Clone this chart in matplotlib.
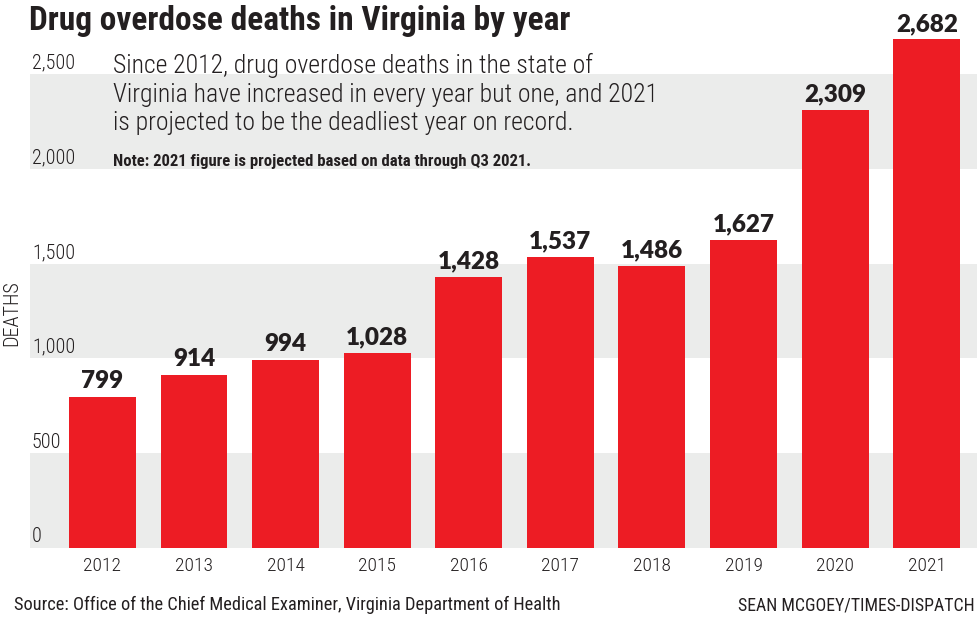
import matplotlib.pyplot as plt
import matplotlib.transforms as mtransforms

years = ["2012", "2013", "2014", "2015", "2016", "2017", "2018", "2019", "2020", "2021"]
deaths = [799, 914, 994, 1028, 1428, 1537, 1486, 1627, 2309, 2682]
y_ticks = [0, 500, 1000, 1500, 2000, 2500]
y_tick_labels = ["0", "500", "1,000", "1,500", "2,000", "2,500"]

RED = "#ED1C24"
GRAY = "#EBECEB"
INK = "#231F20"
NARROW = ["Roboto Condensed", "Liberation Sans Narrow", "Roboto", "DejaVu Sans"]

W, H = 978, 619
fig = plt.figure(figsize=(W / 100, H / 100), dpi=100)

# axes: left edge at x=30px, zero line at y=548px, 500 units = ~95 px
y_top = 2850
px_per_500 = 94.8
ax = fig.add_axes([30 / W, (H - 548) / H, (W - 30) / W, y_top * px_per_500 / 500 / H])
ax.set_xlim(-0.79, 9.56)
ax.set_ylim(0, y_top)
ax.axis("off")

# alternating gray bands
for lo in [0, 1000, 2000]:
    ax.axhspan(lo, lo + 500, color=GRAY, lw=0, zorder=0)

x = list(range(len(years)))
ax.bar(x, deaths, width=0.73, color=RED, zorder=2)

for xi, d in zip(x, deaths):
    ax.text(xi, d + 24, f"{d:,}", ha="center", va="bottom", fontsize=17.5,
            fontweight="heavy", family=["Lato", "DejaVu Sans"], color=INK, zorder=3)

trans = mtransforms.blended_transform_factory(ax.transAxes, ax.transData)
for v, lab in zip(y_ticks, y_tick_labels):
    ax.text(0.002, v + 8, lab, transform=trans, ha="left", va="bottom",
            fontsize=14.5, family=NARROW, fontweight="light", color=INK)

for xi, yr in zip(x, years):
    ax.text(xi, -95, yr, ha="center", va="center", fontsize=14,
            family=NARROW, fontweight="light", color=INK)

fig.text(12 / W, 1 - 313 / H, "DEATHS", rotation=90, ha="center", va="center",
         fontsize=14.5, family=NARROW, fontweight="light", color=INK)

fig.text(29 / W, 1 - 21 / H, "Drug overdose deaths in Virginia by year",
         ha="left", va="center", fontsize=24, fontweight="bold", family=NARROW, color=INK)

fig.text(113 / W, 1 - 94 / H,
         "Since 2012, drug overdose deaths in the state of\n"
         "Virginia have increased in every year but one, and 2021\n"
         "is projected to be the deadliest year on record.",
         ha="left", va="center", fontsize=18.5, family=NARROW, fontweight="light",
         color=INK, linespacing=1.22)

fig.text(113 / W, 1 - 161 / H, "Note: 2021 figure is projected based on data through Q3 2021.",
         ha="left", va="center", fontsize=12, fontweight="bold", family=NARROW, color=INK)

fig.text(14 / W, 1 - 605 / H,
         "Source: Office of the Chief Medical Examiner, Virginia Department of Health",
         ha="left", va="center", fontsize=13.2, family=NARROW, color=INK)
fig.text(975 / W, 1 - 605 / H, "SEAN MCGOEY/TIMES-DISPATCH",
         ha="right", va="center", fontsize=12.8, family=NARROW, color=INK)

fig.savefig("out.png", dpi=100)
